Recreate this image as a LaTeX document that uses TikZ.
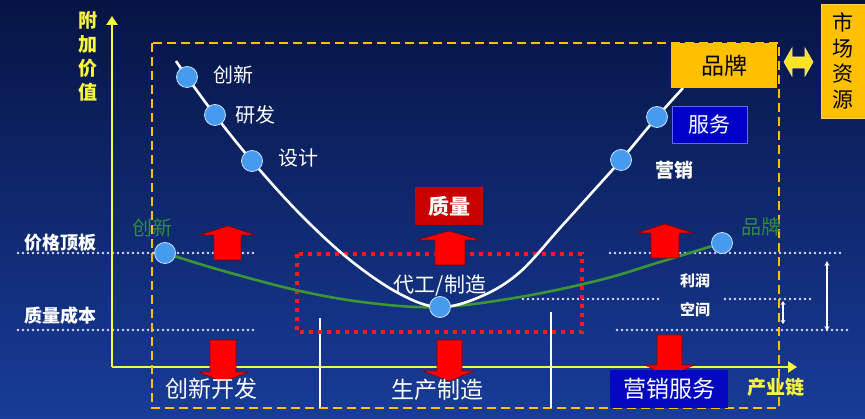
\documentclass[tikz,border=0pt]{standalone}
\usepackage{fontspec}
\newfontfamily\cjk{Noto Sans CJK SC}
\usetikzlibrary{arrows.meta}
\definecolor{bgtop}{RGB}{6,20,68}
\definecolor{bgbot}{RGB}{24,60,152}
\definecolor{axisyellow}{RGB}{250,250,60}
\definecolor{boxgold}{RGB}{255,192,0}
\definecolor{dotblue}{RGB}{70,155,240}
\definecolor{curvegreen}{RGB}{60,150,50}
\definecolor{labgreen}{RGB}{50,140,60}
\definecolor{servblue}{RGB}{0,0,200}
\definecolor{qred}{RGB}{200,0,0}
\definecolor{arrred}{RGB}{255,0,0}
\begin{document}
\begin{tikzpicture}[x=1pt,y=-1pt,
  txt/.style={text=white,inner sep=0pt,font=\cjk\fontsize{#1}{#1}\selectfont},
  txt/.default=20,
  btxt/.style={text=white,inner sep=0pt,font=\cjk\bfseries\fontsize{#1}{#1}\selectfont},
  dotline/.style={draw=white!85!blue,line width=2.6pt,line cap=round,dash pattern=on 0pt off 5pt},
  stagedot/.style={circle,fill=dotblue,draw=white!70!dotblue,line width=0.8pt,minimum size=21pt,inner sep=0pt},
  redarrow/.style={fill=arrred,draw=arrred!55!black,line width=0.6pt},
  axisline/.style={draw=axisyellow,line width=2.4pt},
  whitev/.style={draw=white,line width=2.6pt}]
\useasboundingbox (0,0) rectangle (865,419);
\shade[top color=bgtop,bottom color=bgbot] (0,0) rectangle (865,419);

% dotted level lines
\draw[dotline] (18,253) -- (255,253);
\draw[dotline] (610,253) -- (842,253);
\draw[dotline] (18,330) -- (255,330);
\draw[dotline] (617,330) -- (849,330);
\draw[dotline] (523,299) -- (658,299);
\draw[dotline] (725,299) -- (812,299);

% axes
\coordinate (origin) at (112,367);
\coordinate (ytip) at (112,16);
\coordinate (xtip) at (797,367);
\draw[axisline,-{Triangle[length=9pt,width=11pt]}] (origin) -- (ytip);
\draw[axisline,-{Triangle[length=9pt,width=11pt]}] (origin) -- (xtip);
\node[text=axisyellow,inner sep=0pt,font=\cjk\bfseries\fontsize{19}{24}\selectfont,align=center] (yl) at (88,56) {附\\加\\价\\值};
\node[text=axisyellow,inner sep=0pt,font=\cjk\bfseries\fontsize{19}{19}\selectfont] (xl) at (776,387) {产业链};

% dashed frame
\draw[draw=boxgold,line width=2.8pt,dash pattern=on 9pt off 5pt] (152,43) rectangle (779,408);

% white vertical separators
\draw[whitev] (320,318) -- (320,408);
\draw[whitev] (551,312) -- (551,408);

% red dotted rectangle
\draw[draw=arrred!90!white,line width=3.6pt,dash pattern=on 4pt off 5pt] (297,254) rectangle (582,332);

% curves
\draw[curvegreen,line width=2.6pt] plot[smooth,tension=0.6] coordinates
  {(165,253) (220,270) (300,291) (370,303) (440,307) (520,297) (600,280) (660,262) (722,243)};
\draw[white,line width=2.6pt] plot[smooth,tension=0.6] coordinates
  {(176,61) (187,77) (215,115) (252,161) (300,214) (350,260) (400,294) (440,307) (482,296) (520,272) (560,228) (597,187) (621,160) (657,117) (683,88)};

% stage dots
\node[stagedot] (d1) at (187,77) {};
\node[stagedot] (d2) at (215,115) {};
\node[stagedot] (d3) at (252,161) {};
\node[stagedot] (d4) at (621,160) {};
\node[stagedot] (d5) at (657,117) {};
\node[stagedot] (g1) at (165,253) {};
\node[stagedot] (g2) at (722,243) {};
\node[stagedot] (mid) at (440,307) {};

% stage labels
\node[txt=20] (l1) at (233,75) {创新};
\node[txt=20] (l2) at (255,115) {研发};
\node[txt=20] (l3) at (298,158) {设计};
\node[btxt=19] (l4) at (674,170) {营销};
\node[txt=20,text=labgreen] (gl1) at (152,228) {创新};
\node[txt=20,text=labgreen] (gl2) at (761,227) {品牌};
\node[txt=21] (lm) at (440,286) {代工/制造};

% boxes
\node[fill=servblue,draw=blue!60!white,line width=0.8pt,minimum width=75pt,minimum height=37pt,inner sep=0pt,text=white,font=\cjk\fontsize{21}{21}\selectfont] (serv) at (709.5,124.5) {服务};
\node[fill=boxgold,minimum width=106pt,minimum height=45pt,inner sep=0pt,text=black,font=\cjk\fontsize{23}{23}\selectfont] (brand) at (724,65.5) {品牌};
\node[fill=boxgold,draw=boxgold!70!white,minimum width=44pt,minimum height=114pt,inner sep=0pt,text=black,align=center,font=\cjk\fontsize{21}{25.5}\selectfont] (market) at (843,61) {市\\场\\资\\源};
\node[fill=qred,minimum width=68pt,minimum height=38pt,inner sep=0pt,text=white,font=\cjk\bfseries\fontsize{21}{21}\selectfont] (qual) at (449,206) {质量};

% yellow double arrow between brand and market
\draw[fill=axisyellow!60!boxgold,draw=white!60!boxgold,line width=0.6pt]
  (784,62) -- (792,48) -- (792,57) -- (805,57) -- (805,48) -- (813,62) -- (805,76) -- (805,68) -- (792,68) -- (792,76) -- cycle;

% red block arrows
\draw[redarrow] (228,226) -- (255,235) -- (241,235) -- (241,260) -- (214,260) -- (214,235) -- (200,235) -- cycle;
\draw[redarrow] (449,231) -- (480,240) -- (465,240) -- (465,265) -- (435,265) -- (435,240) -- (417,240) -- cycle;
\draw[redarrow] (665,224) -- (693,233) -- (679,233) -- (679,258) -- (651,258) -- (651,233) -- (638,233) -- cycle;
\draw[redarrow] (210,340) -- (236,340) -- (236,372) -- (248,372) -- (223,382) -- (199,372) -- (210,372) -- cycle;
\draw[redarrow] (437,340) -- (462,340) -- (462,371) -- (474,371) -- (449,381) -- (423,371) -- (437,371) -- cycle;
\draw[redarrow] (657,335) -- (682,335) -- (682,365) -- (694,365) -- (669,377) -- (645,365) -- (657,365) -- cycle;

% level labels
\node[btxt=18] (top) at (60,243) {价格顶板};
\node[btxt=18] (cost) at (60,316) {质量成本};
\node[btxt=15] (pr1) at (695,281) {利润};
\node[btxt=15] (pr2) at (695,310) {空间};

% thin white double arrows
\coordinate (a1) at (827,261);
\coordinate (a2) at (827,331);
\coordinate (b1) at (783,301);
\coordinate (b2) at (783,324);
\draw[white,line width=1.2pt,{Stealth[length=5pt,width=5pt]}-{Stealth[length=5pt,width=5pt]}] (a1) -- (a2);
\draw[white,line width=1.2pt,{Stealth[length=4pt,width=5pt]}-{Stealth[length=4pt,width=5pt]}] (b1) -- (b2);

% bottom stage labels
\node[txt=23] (s1) at (211,389) {创新开发};
\node[txt=23] (s2) at (437,390) {生产制造};
\node[fill=servblue!85!bgbot,minimum width=118pt,minimum height=38pt,inner sep=0pt,text=white,font=\cjk\fontsize{23}{23}\selectfont] (s3) at (669,389) {营销服务};
\end{tikzpicture}
\end{document}
